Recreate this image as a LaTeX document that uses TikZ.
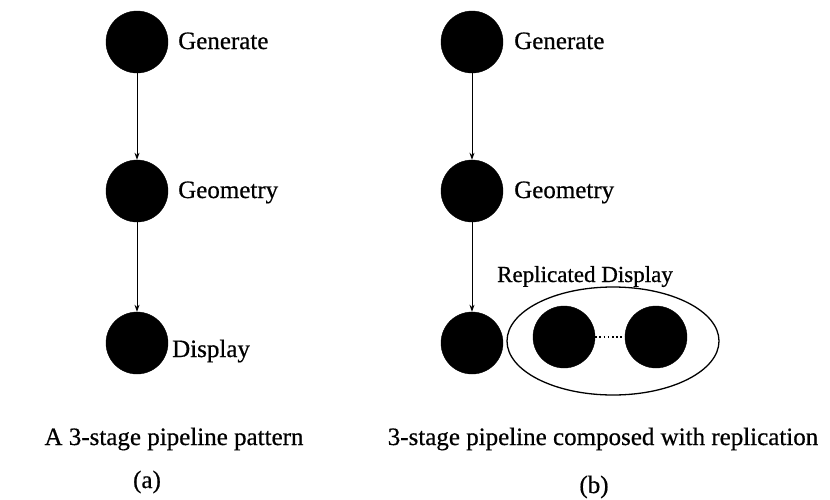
\documentclass[tikz,border=0pt]{standalone}
\usepackage{fontspec}
\setmainfont[FakeBold=0.6]{Liberation Serif}
\usetikzlibrary{arrows.meta,shapes.geometric}
\begin{document}
\begin{tikzpicture}[x=1pt,y=-1pt,
  dot/.style={circle,fill=black,draw=black,minimum size=62pt,inner sep=0pt},
  lbl/.style={anchor=base west,inner sep=0pt,font=\fontsize{25}{30}\selectfont},
  captxt/.style={anchor=base,inner sep=0pt,font=\fontsize{25}{30}\selectfont},
  flow/.style={line width=0.9pt,-{Stealth[length=7pt,width=5pt]}}]
\useasboundingbox (0,0) rectangle (830,499);
% (a)
\node[dot] (ga) at (137,42) {};
\node[dot] (gea) at (137,191) {};
\node[dot] (da) at (137,343) {};
\node[lbl] (tga) at (178,49) {Generate};
\node[lbl] (tgea) at (178,198) {Geometry};
\node[lbl] (tda) at (172,357) {Display};
\draw[flow] (ga) -- (gea);
\draw[flow] (gea) -- (da);
% (b)
\node[dot] (gb) at (472,42) {};
\node[dot] (geb) at (472,191) {};
\node[dot] (db) at (472,343) {};
\node[lbl] (tgb) at (514,49) {Generate};
\node[lbl] (tgeb) at (514,198) {Geometry};
\draw[flow] (gb) -- (geb);
\draw[flow] (geb) -- (db);
\node[ellipse,draw=black,line width=1.3pt,minimum width=212pt,minimum height=108pt,inner sep=0pt] (rep) at (613,341) {};
\node[dot] (r1) at (564,337) {};
\node[dot] (r2) at (656,337) {};
\draw[line width=1.6pt,dash pattern=on 1.6pt off 2.6pt] (r1) -- (r2);
\node[captxt,font=\fontsize{23}{28}\selectfont] (trep) at (585,282) {Replicated Display};
% captions
\node[captxt] (capa) at (174,445) {A 3-stage pipeline pattern};
\node[captxt] (capb) at (603,445) {3-stage pipeline composed with replication};
\node[captxt] (la) at (147,488) {(a)};
\node[captxt] (lb) at (594,493) {(b)};
\end{tikzpicture}
\end{document}
